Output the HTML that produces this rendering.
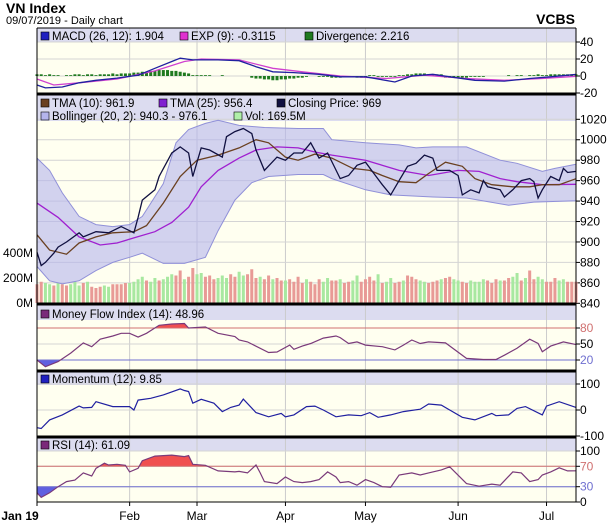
<!DOCTYPE html>
<html><head><meta charset="utf-8"><style>
body{margin:0;background:#fff;width:608px;height:527px;overflow:hidden;font-family:"Liberation Sans",sans-serif}
svg{display:block}
text{font-family:"Liberation Sans",sans-serif}
</style></head><body>
<svg id="c" width="608" height="527" viewBox="0 0 608 527" xmlns="http://www.w3.org/2000/svg">
<text x="6" y="13" font-size="14" font-weight="bold">VN Index</text>
<text x="6" y="24" font-size="11">09/07/2019 - Daily chart</text>
<text x="575" y="24" font-size="14" font-weight="bold" text-anchor="end">VCBS</text>
</svg>
<script>
const monthDays=[0,22,38,59,78,100,121];
const monthLabels=["Jan 19","Feb","Mar","Apr","May","Jun","Jul"];
const macdDays=[0,2,6,10,14,19,24,28,32,34,37,43,48,52,56,61,67,72,78,85,89,94,98,104,111,117,122,128];
const macdVals=[-10.6,-14,-13,-8,-5,-2.5,1,9,17,21,19,19,18,11,5,4,2,-1,-1,-7,0,2,-1,-5,-6,-3,-1,1.9];
const sigDays=[0,4,10,19,28,35,39,48,56,63,72,83,92,102,111,120,128];
const sigVals=[-3.5,-10.6,-8,-3.5,6,17,20,19,9,5,0,-3,1,-3,-5,-3,-0.3];
const divVals=[2,2,1,2,1,1,0,1,1,2,2,1,2,2,1,2,2,2,3,2,3,3,3,4,4,5,5,6,6,7,7,7,6,6,5,4,3,1,1,1,1,1,0,0,1,0,0,0,0,0,0,-2,-3,-3,-4,-4,-5,-5,-4,-4,-3,-3,-2,-2,-1,0,0,-1,-1,-1,-2,-2,-2,-1,-1,-1,-2,-2,-1,1,1,-1,-1,-1,-1,-1,1,1,2,2,3,3,3,2,2,2,2,-2,-2,-2,-2,-2,-2,-1,-1,-1,-1,0,0,0,0,0,1,0,1,1,0,1,1,2,1,1,2,2,2,2,2,2,2];
const closeDays=[0,1,2,4,5,7,10,11,14,17,20,23,24,25,28,29,32,34,36,37,39,41,44,45,47,49,51,52,54,57,59,61,63,65,67,69,72,74,76,78,80,82,84,86,88,90,92,94,95,98,100,101,103,105,106,107,110,111,113,115,117,118,119,120,122,124,125,126,128];
const closeVals=[890,877,880,889,895,900,909,905,910,909,915,909,924,941,951,964,987,993,987,964,992,990,983,1003,1008,1011,1006,990,970,983,980,987,987,997,982,987,962,965,975,978,967,956,946,960,974,977,985,982,970,970,965,946,951,948,960,954,951,944,951,960,962,959,943,951,964,960,972,968,969];
const tma10Days=[0,3,7,10,14,18,23,26,30,34,38,43,48,52,55,59,62,66,70,75,79,82,86,90,93,97,101,104,108,113,117,120,124,128];
const tma10Vals=[907,892,888,899,905,909,910,916,938,964,980,985,992,1000,997,983,980,986,982,972,970,965,959,958,967,978,974,962,956,954,954,956,956,961.9];
const tma25Days=[0,5,10,15,19,23,28,32,36,39,43,48,52,57,62,66,70,78,86,93,100,105,110,114,120,128];
const tma25Vals=[938,924,905,897,899,904,910,919,934,954,970,982,990,993,992,988,985,980,970,965,970,969,962,959,956,956.4];
const bbUpDays=[0,3,6,10,14,18,22,25,30,33,36,40,43,48,54,62,68,70,78,86,90,94,102,110,114,120,123,128];
const bbUpVals=[982,970,948,925,917,915,917,925,957,997,1010,1016,1019,1014,1012,1011,1011,1000,997,995,992,993,993,980,977,969,972,976.1];
const bbLoDays=[0,3,6,10,14,18,22,25,30,35,40,43,47,51,55,62,68,70,78,84,94,102,112,118,128];
const bbLoVals=[876,862,859,862,872,880,885,889,879,879,885,911,941,958,964,966,966,962,951,946,944,943,936,939,940.3];
const volVals=[150,170,160,150,140,160,150,140,150,170,140,160,170,130,120,130,140,130,150,150,150,160,160,170,190,210,180,170,200,180,190,210,230,220,260,190,210,280,230,240,210,220,190,200,220,200,230,210,250,220,230,270,200,210,190,220,190,200,180,180,190,170,210,160,190,170,150,190,170,200,180,180,190,160,170,180,220,170,190,210,180,230,160,170,200,160,170,180,220,210,190,180,170,160,170,180,190,200,210,190,180,170,160,180,170,170,190,180,160,190,180,180,200,210,240,180,200,260,190,210,190,170,170,200,180,190,170,170,170];
const volDir="RRGGRGRRGGGRGRRRGGRRRRGGGGRGGRGGGRRGRRGGRRRGGGRRGGRRRGRRGRRGRRRRGRRRGGRRGRRGGRRRRGRGGRRGRRRGGRRRGRRGGRRGGGGRRRGRRGGRGRRGGRRRGGR";
const mfiDays=[0,2,5,8,11,13,15,18,20,22,24,26,29,32,35,36,40,43,47,48,50,55,57,60,61,63,65,68,71,72,74,76,78,82,85,87,89,91,93,97,102,106,109,111,114,117,119,120,122,125,128];
const mfiVals=[20,7.5,17,33,52,45,59,65,70,70,63,70,85,87.5,88.5,80,81.9,70,64,57.5,54,34,35,48,40,46,51,61,65,62,51,54,48,45,39,48,57.5,51,54,52,23,21,21,29,42,59,51,35.6,46,54,48.96];
const momDays=[0,1,3,6,10,11,13,14,18,22,23,24,27,30,34,35,36,37,39,42,44,46,48,49,52,55,58,59,61,64,66,68,71,74,77,79,81,84,87,91,93,96,98,101,104,108,109,112,114,116,120,121,124,128];
const momVals=[-68,-71,-38,-19,15,8,10,32,13,13,0,38,45,58,81,75,71,26,41,26,-6,10,19,42,-10,-26,-13,-26,-19,13,15,0,-26,-19,-22,-10,-28,-19,-6,3,23,19,0,-28,-38,-13,-22,-19,6,13,-19,15,32,9.85];
const rsiDays=[0,1,3,5,7,9,11,13,14,16,17,19,21,22,24,25,28,32,35,36,37,40,43,47,48,50,52,53,54,57,59,61,63,65,67,69,71,72,74,76,78,80,82,84,86,89,91,93,96,98,102,105,108,110,113,115,117,119,120,122,124,126,128];
const rsiVals=[18,9,18,30,40,43,57,51,66,76,72.5,74,72,59,66,81,90,92,89,91,74,72,61,59,60,57,72.5,57,40,36,49,40,38,40,44,59,49,38,40,33,44,38,30,29,53,57,53,57,63,69,36,31,35,33,59,57,40,44,53,59,67,61,61.09];

const NS="http://www.w3.org/2000/svg", svg=document.getElementById('c');
const L=37,R=576;
const X=d=>L+d*(R-L)/128;
function el(tag,attrs,parent){const e=document.createElementNS(NS,tag);for(const k in attrs)e.setAttribute(k,attrs[k]);(parent||svg).appendChild(e);return e;}
const yMacd=v=>76-v*0.85;
const yPx=p=>303.3-(p-840)*1.0222;
const yVol=v=>303-v*0.125;
const yMfi=v=>360-(v-20)*0.5333;
const yMom=v=>410-v*0.26;
const yRsi=v=>502-v*0.51;
const pts=(ds,vs,f)=>ds.map((d,i)=>X(d).toFixed(1)+','+f(vs[i]).toFixed(1)).join(' ');

// panels
const panels=[["macd-panel",28,94,42],["price-panel",95,304,121],["mfi-panel",305,371,320],["momentum-panel",372,437,385],["rsi-panel",438,502,451]];
panels.forEach(p=>{
  const g=el('rect',{x:L,y:p[1],width:R-L,height:p[2]-p[1],fill:'#fffff0'});
  
  
  const h=el('rect',{x:L,y:p[1],width:R-L,height:p[3]-p[1],fill:'#dcdcf0'});
  
  
});
// vertical grid
monthDays.forEach((d,i)=>{ if(i===0)return;
  const ln=el('line',{x1:X(d),x2:X(d),y1:28,y2:502,stroke:'#cccccc','stroke-width':1});
  
  
});
function hgrid(vals,f,labels,colors){
  vals.forEach((v,i)=>{
    const y=f(v);
    const ln=el('line',{x1:L,x2:R,y1:y,y2:y,stroke:'#d4d4d4','stroke-width':1});
    
    
    const tk=el('line',{x1:R,x2:R+4,y1:y,y2:y,stroke:'#000'});
    
    
    const t=el('text',{x:R+4,y:y+4,'font-size':12,fill:(colors&&colors[i])||'#000'});
    t.textContent=labels[i];
    
    
  });
}
hgrid([40,20,0,-20],yMacd,["40","20","0","-20"]);
hgrid([1020,1000,980,960,940,920,900,880,860,840],yPx,["1020","1000","980","960","940","920","900","880","860","840"]);
[["400M",400],["200M",200],["0M",0]].forEach(a=>{
  const t=el('text',{x:33,y:yVol(a[1])+4,'font-size':12,'text-anchor':'end'});
  t.textContent=a[0];
  
  
});
hgrid([80,50,20],yMfi,["80","50","20"],["#d07070","#000","#7070d0"]);
hgrid([100,0,-100],yMom,["100","0","-100"]);
hgrid([100,70,30,0],yRsi,["100","70","30","0"],["#000","#d07070","#7070d0","#000"]);

// MACD divergence bars
divVals.forEach((v,i)=>{ if(v===0)return;
  const y0=yMacd(0),y1=yMacd(v);
  const b=el('rect',{x:X(i)-1.5,y:Math.min(y0,y1),width:3,height:Math.abs(y1-y0),fill:'#1f7a1f'});
  
  
});
let p=el('polyline',{points:pts(sigDays,sigVals,yMacd),fill:'none',stroke:'#d040d0','stroke-width':1.3});


p=el('polyline',{points:pts(macdDays,macdVals,yMacd),fill:'none',stroke:'#2020a0','stroke-width':1.3});



// volume
volVals.forEach((v,i)=>{
  const b=el('rect',{x:X(i)-1.5,y:yVol(v),width:3,height:303-yVol(v),fill:volDir[i]==='G'?'#a8e8a0':'#e89a96'});
  
  
});
// bollinger
const bbPts=pts(bbUpDays,bbUpVals,yPx)+' '+bbLoDays.map((d,i)=>X(d).toFixed(1)+','+yPx(bbLoVals[i]).toFixed(1)).reverse().join(' ');
p=el('polygon',{points:bbPts,fill:'#b4b4ec','fill-opacity':0.6,stroke:'#9090d8','stroke-width':1});


p=el('polyline',{points:pts(tma25Days,tma25Vals,yPx),fill:'none',stroke:'#a020d0','stroke-width':1.3});


p=el('polyline',{points:pts(tma10Days,tma10Vals,yPx),fill:'none',stroke:'#6a4020','stroke-width':1.3});


p=el('polyline',{points:pts(closeDays,closeVals,yPx),fill:'none',stroke:'#101040','stroke-width':1.3});



// oscillator fills
let cid=0;
function zoneFill(ds,vs,f,thr,above,color,name){
  const ty=f(thr);
  const id='clip'+(cid++);
  const cp=el('clipPath',{id:id});
  el('rect',above?{x:L,y:0,width:R-L,height:ty}:{x:L,y:ty,width:R-L,height:600},cp);
  const poly=X(ds[0]).toFixed(1)+','+ty+' '+pts(ds,vs,f)+' '+X(ds[ds.length-1]).toFixed(1)+','+ty;
  const a=el('polygon',{points:poly,fill:color,'clip-path':'url(#'+id+')'});
  
  
}
zoneFill(mfiDays,mfiVals,yMfi,80,true,'#f05050','mfi-overbought-area');
zoneFill(mfiDays,mfiVals,yMfi,20,false,'#6060e0','mfi-oversold-area');
zoneFill(rsiDays,rsiVals,yRsi,70,true,'#f05050','rsi-overbought-area');
zoneFill(rsiDays,rsiVals,yRsi,30,false,'#6060e0','rsi-oversold-area');
[[yMfi(80),'#d07070'],[yMfi(20),'#7070d0'],[yRsi(70),'#d07070'],[yRsi(30),'#7070d0']].forEach(a=>{
  const ln=el('line',{x1:L,x2:R,y1:a[0],y2:a[0],stroke:a[1],'stroke-width':1});
  
  
});
p=el('polyline',{points:pts(mfiDays,mfiVals,yMfi),fill:'none',stroke:'#7a3a7a','stroke-width':1.2});


p=el('polyline',{points:pts(momDays,momVals,yMom),fill:'none',stroke:'#2020a0','stroke-width':1.2});


p=el('polyline',{points:pts(rsiDays,rsiVals,yRsi),fill:'none',stroke:'#7a3a7a','stroke-width':1.2});



// borders
[[28,1],[94,3],[304,3],[371,3],[437,3]].forEach(a=>{
  const ln=el('line',{x1:L,x2:R,y1:a[0],y2:a[0],stroke:'#000','stroke-width':a[1]});
  
  
});
let bl=el('line',{x1:L,x2:L,y1:28,y2:504,stroke:'#000'});


bl=el('line',{x1:R,x2:R,y1:28,y2:502,stroke:'#000'});


bl=el('line',{x1:L,x2:R,y1:502,y2:502,stroke:'#000'});


monthDays.forEach((d,i)=>{
  const tk=el('line',{x1:X(d),x2:X(d),y1:502,y2:506,stroke:'#000'});
  
  
  const t=el('text',{x:i===0?20:X(d),y:520,'font-size':12,'text-anchor':'middle','font-weight':i===0?'bold':'normal'});
  t.textContent=monthLabels[i];
  
  
});

// legends
function legend(x,y,color,label,name){
  const s=el('rect',{x:x,y:y-8,width:8,height:8,fill:color,stroke:'#000','stroke-width':0.6});
  
  
  const t=el('text',{x:x+11,y:y,'font-size':11.5});
  t.textContent=label;
  
  
}
legend(41,40,'#2020c0','MACD (26, 12): 1.904','legend-macd');
legend(180,40,'#e030d0','EXP (9): -0.3115','legend-exp');
legend(305,40,'#1f7a1f','Divergence: 2.216','legend-divergence');
legend(41,107,'#6a4020','TMA (10): 961.9','legend-tma10');
legend(159,107,'#8020d0','TMA (25): 956.4','legend-tma25');
legend(277,107,'#101040','Closing Price: 969','legend-close');
legend(41,120,'#b4b4ec','Bollinger (20, 2): 940.3 - 976.1','legend-bollinger');
legend(234,120,'#b0f0a8','Vol: 169.5M','legend-volume');
legend(41,318,'#7a2a7a','Money Flow Index (14): 48.96','legend-mfi');
legend(41,383,'#2020c0','Momentum (12): 9.85','legend-momentum');
legend(41,449,'#7a2a7a','RSI (14): 61.09','legend-rsi');
</script>
</body></html>
